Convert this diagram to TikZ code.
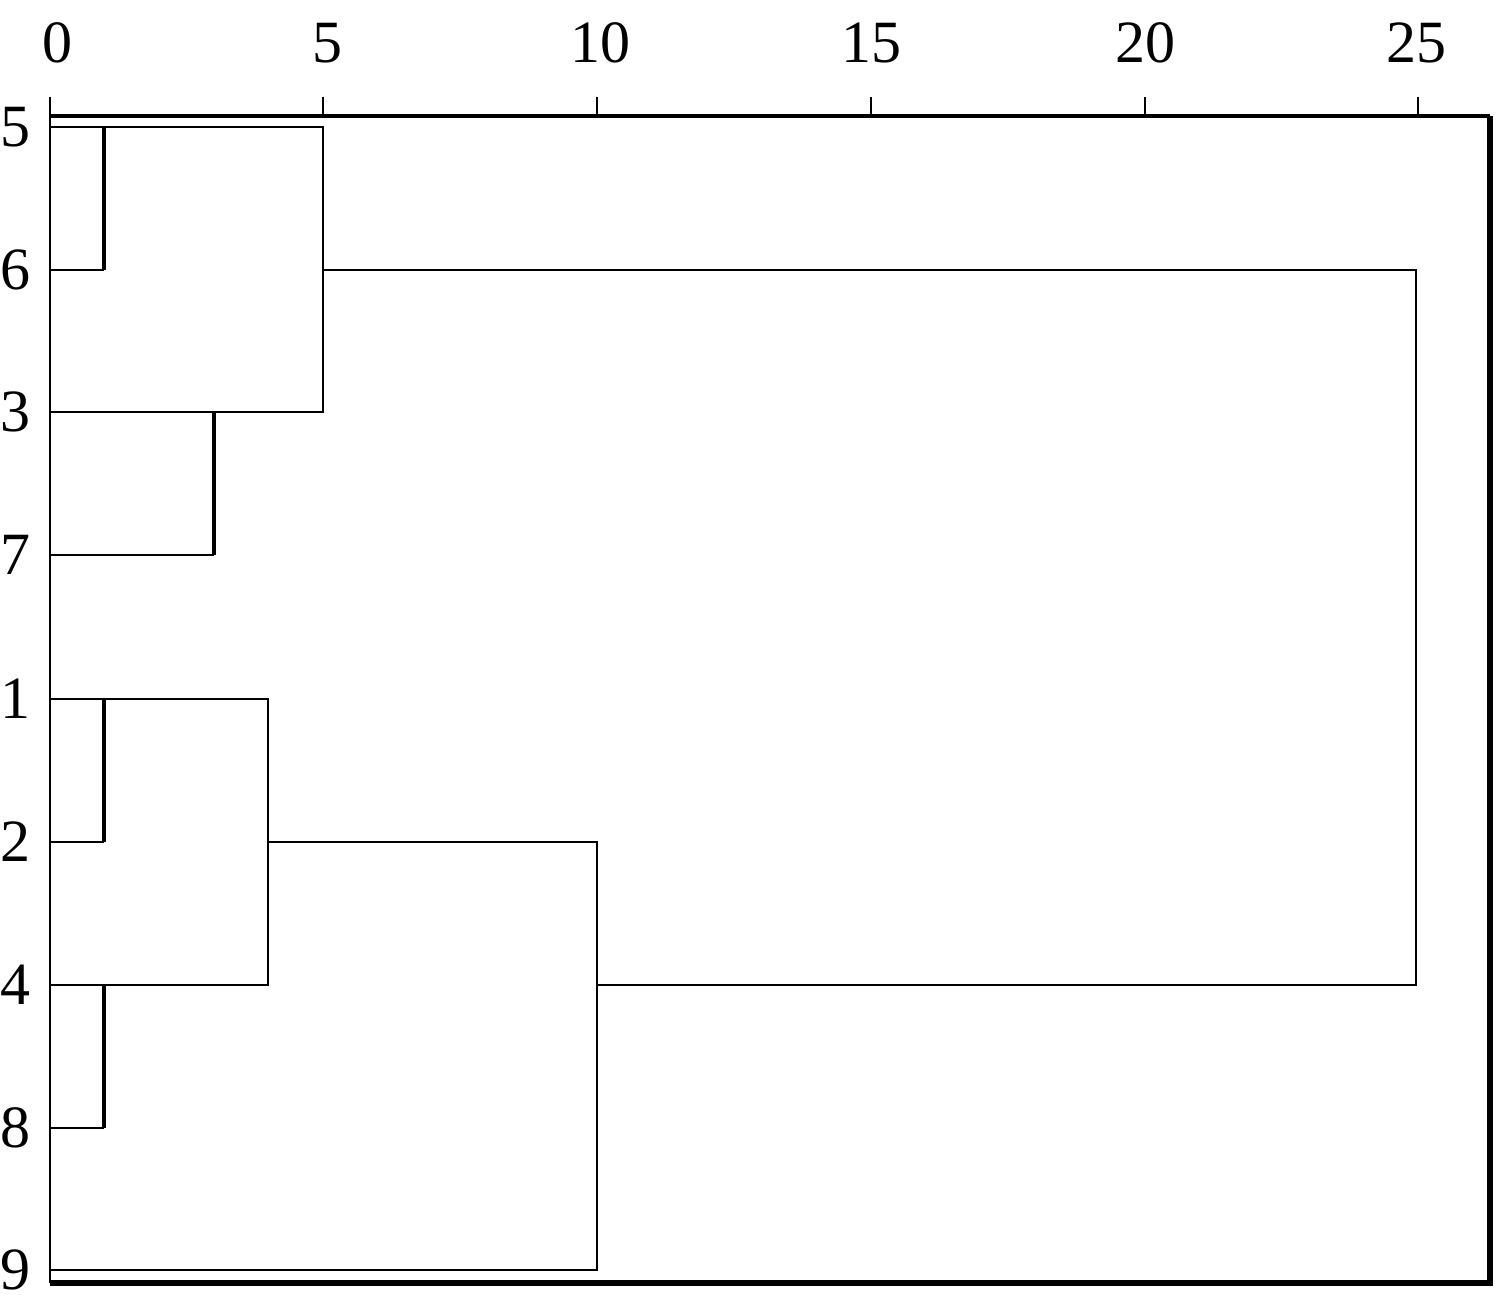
\documentclass[tikz,border=0pt]{standalone}
\usepackage{fontspec}
\setmainfont{Liberation Serif}
\begin{document}
\begin{tikzpicture}[x=0.5pt,y=-0.5pt,
  lbl/.style={font=\fontsize{30}{30}\selectfont, inner sep=0pt},
  thinlink/.style={line width=1.3pt},
  thicklink/.style={line width=2.3pt},
  axisline/.style={line width=2.2pt},
  tickline/.style={line width=1.3pt},
  frameline/.style={line width=2.6pt}]
\useasboundingbox (0,0) rectangle (1500,1309);
% frame and axis
\coordinate (TL) at (50,97);
\coordinate (AL) at (50,116);
\coordinate (AR) at (1490,116);
\coordinate (BL) at (50,1283);
\coordinate (BR) at (1490,1283);
\draw[axisline] (AL) -- (AR);
\draw[tickline] (TL) -- (BL);
\draw[frameline] (AR) -- (BR) -- (BL);
\foreach \v/\x/\lx in {0/50/57,5/323/327,10/597/600,15/871/871,20/1145/1145,25/1418/1416}{
  \coordinate (t\v) at (\x,97);
  \coordinate (b\v) at (\x,116);
  \draw[tickline] (t\v) -- (b\v);
  \node[lbl] (tl\v) at (\lx,43) {\v};
}
% row labels and leaf points
\foreach \r/\y in {5/127,6/270,3/412,7/555,1/699,2/842,4/985,8/1128,9/1270}{
  \node[lbl] (r\r) at (15,\y) {\r};
  \coordinate (p\r) at (50,\y);
}
% joins
\coordinate (a5) at (104,127); \coordinate (a6) at (104,270);
\coordinate (c3) at (214,412); \coordinate (c7) at (214,555);
\coordinate (d5) at (323,127); \coordinate (d3) at (323,412); \coordinate (d6) at (323,270);
\coordinate (e1) at (104,699); \coordinate (e2) at (104,842);
\coordinate (f4) at (104,985); \coordinate (f8) at (104,1128);
\coordinate (g1) at (268,699); \coordinate (g4) at (268,985); \coordinate (g2) at (268,842);
\coordinate (h2) at (597,842); \coordinate (h9) at (597,1270); \coordinate (h4) at (597,985);
\coordinate (k6) at (1416,270); \coordinate (k4) at (1416,985);
% cluster (5,6),(3,7)
\draw[thinlink] (p5) -- (d5) -- (d3) -- (p3);
\draw[thinlink] (p6) -- (a6);
\draw[thicklink] (a5) -- (a6);
\draw[thinlink] (p7) -- (c7);
\draw[thicklink] (c3) -- (c7);
% cluster (1,2),(4,8),9
\draw[thinlink] (p1) -- (g1) -- (g4) -- (p4);
\draw[thinlink] (p2) -- (e2);
\draw[thicklink] (e1) -- (e2);
\draw[thinlink] (p8) -- (f8);
\draw[thicklink] (f4) -- (f8);
\draw[thinlink] (g2) -- (h2) -- (h9) -- (p9);
% top join
\draw[thinlink] (d6) -- (k6) -- (k4) -- (h4);
\end{tikzpicture}
\end{document}
